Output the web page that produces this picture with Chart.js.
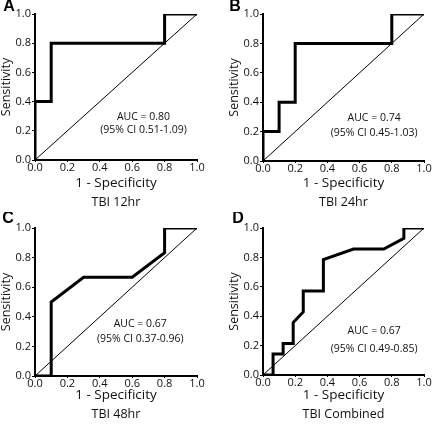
<!DOCTYPE html>
<html>
<head>
<meta charset="utf-8">
<script src="https://cdn.jsdelivr.net/npm/chart.js@4.4.0/dist/chart.umd.js"></script>
<style>
    body { margin: 0; background: #fff; width: 432px; height: 424px; position: relative; overflow: hidden; }
    .panel { position: absolute; width: 216px; height: 212px; }
</style>
</head>
<body>
<div class="panel" style="left:0;top:0"><canvas id="chartA" width="216" height="212"></canvas></div>
<div class="panel" style="left:216px;top:0"><canvas id="chartB" width="216" height="212"></canvas></div>
<div class="panel" style="left:0;top:212px"><canvas id="chartC" width="216" height="212"></canvas></div>
<div class="panel" style="left:216px;top:212px"><canvas id="chartD" width="216" height="212"></canvas></div>
<script>
// tick labels shared by both axes
const tickValues = [0, 0.2, 0.4, 0.6, 0.8, 1.0];

const panelLetters = ['A', 'B', 'C', 'D'];
const panelTitles = ['TBI 12hr', 'TBI 24hr', 'TBI 48hr', 'TBI Combined'];
const aucLabels = ['AUC = 0.80', 'AUC = 0.74', 'AUC = 0.67', 'AUC = 0.67'];
const ciLabels = ['(95% CI 0.51-1.09)', '(95% CI 0.45-1.03)', '(95% CI 0.37-0.96)', '(95% CI 0.49-0.85)'];

// ROC curves: 1 - specificity (x) and sensitivity (y)
const fpr12hr = [0, 0, 0.1, 0.1, 0.8, 0.8, 1];
const tpr12hr = [0, 0.4, 0.4, 0.8, 0.8, 1, 1];

const fpr24hr = [0, 0, 0.1, 0.1, 0.2, 0.2, 0.8, 0.8, 1];
const tpr24hr = [0, 0.2, 0.2, 0.4, 0.4, 0.8, 0.8, 1, 1];

const fpr48hr = [0, 0.1, 0.1, 0.3, 0.6, 0.8, 0.8, 1];
const tpr48hr = [0, 0, 0.5, 0.667, 0.667, 0.833, 1, 1];

const fprCombined = [0, 0.0625, 0.0625, 0.125, 0.125, 0.1875, 0.1875, 0.25, 0.25, 0.375, 0.375, 0.5625, 0.75, 0.875, 0.875, 1];
const tprCombined = [0, 0, 0.143, 0.143, 0.214, 0.214, 0.357, 0.429, 0.571, 0.571, 0.786, 0.857, 0.857, 0.929, 1, 1];

// reference (chance) line
const chanceX = [0, 1];
const chanceY = [0, 1];

const curves = [
    [fpr12hr, tpr12hr],
    [fpr24hr, tpr24hr],
    [fpr48hr, tpr48hr],
    [fprCombined, tprCombined]
];

// plot boxes inside each 216x212 canvas, plus where the AUC note sits
const boxes = [
    { left: 35, right: 197, top: 14, bottom: 160, noteX: 0.67, noteY: [0.295, 0.205], letterX: 9 },
    { left: 47, right: 208, top: 14, bottom: 161, noteX: 0.69, noteY: [0.29, 0.19], letterX: 19 },
    { left: 35, right: 197, top: 16, bottom: 164, noteX: 0.65, noteY: [0.35, 0.25], letterX: 8 },
    { left: 47, right: 208, top: 16, bottom: 163, noteX: 0.69, noteY: [0.30, 0.18], letterX: 22 }
];

const FONT = "'Open Sans', sans-serif";

const panelText = {
    id: 'panelText',
    afterDraw(chart, args, opts) {
        const ctx = chart.ctx;
        const x = chart.scales.x;
        const y = chart.scales.y;
        const area = chart.chartArea;
        ctx.save();
        ctx.fillStyle = '#111';
        ctx.textAlign = 'center';
        ctx.textBaseline = 'middle';

        ctx.font = '10.5px ' + FONT;
        ctx.fillText(opts.auc, x.getPixelForValue(opts.noteX), y.getPixelForValue(opts.noteY[0]));
        ctx.fillText(opts.ci, x.getPixelForValue(opts.noteX), y.getPixelForValue(opts.noteY[1]));

        ctx.font = '12.5px ' + FONT;
        ctx.fillText(opts.title, (area.left + area.right) / 2, 202);

        ctx.fillStyle = '#000';
        ctx.font = 'bold 16px "Liberation Sans", Arial, sans-serif';
        ctx.fillText(opts.letter, opts.letterX, 7);
        ctx.restore();
    }
};

function renderPanel(i) {
    const box = boxes[i];
    const [fpr, tpr] = curves[i];
    const rocPoints = fpr.map((v, k) => ({ x: v, y: tpr[k] }));
    const chancePoints = chanceX.map((v, k) => ({ x: v, y: chanceY[k] }));

    new Chart(document.getElementById('chart' + panelLetters[i]), {
        type: 'scatter',
        data: {
            datasets: [
                {
                    data: rocPoints,
                    showLine: true,
                    borderColor: '#000',
                    borderWidth: 3,
                    borderJoinStyle: 'miter',
                    pointRadius: 0,
                    tension: 0
                },
                {
                    data: chancePoints,
                    showLine: true,
                    borderColor: '#000',
                    borderWidth: 1,
                    pointRadius: 0
                }
            ]
        },
        options: {
            responsive: false,
            animation: false,
            layout: { padding: { left: box.left - 35, top: box.top, right: 216 - box.right, bottom: 0 } },
            plugins: {
                legend: { display: false },
                tooltip: { enabled: false },
                panelText: {
                    auc: aucLabels[i],
                    ci: ciLabels[i],
                    title: panelTitles[i],
                    letter: panelLetters[i],
                    noteX: box.noteX,
                    noteY: box.noteY,
                    letterX: box.letterX
                }
            },
            scales: {
                x: {
                    type: 'linear',
                    min: 0,
                    max: 1,
                    afterFit: (s) => { s.height = 212 - box.bottom; },
                    afterBuildTicks: (s) => { s.ticks = tickValues.map(v => ({ value: v })); },
                    ticks: {
                        color: '#111',
                        padding: 0,
                        maxRotation: 0,
                        font: { family: FONT, size: 11, lineHeight: 1.1 },
                        callback: (v) => v.toFixed(1)
                    },
                    grid: { drawOnChartArea: false, tickLength: 2, color: '#000', lineWidth: 1 },
                    border: { color: '#000', width: 2 },
                    title: {
                        display: true,
                        text: '1 - Specificity',
                        color: '#111',
                        font: { family: FONT, size: 13.5 },
                        padding: { top: 0, bottom: 21 }
                    }
                },
                y: {
                    type: 'linear',
                    min: 0,
                    max: 1,
                    afterFit: (s) => { s.width = 35; },
                    afterBuildTicks: (s) => { s.ticks = tickValues.map(v => ({ value: v })); },
                    ticks: {
                        color: '#111',
                        padding: 1,
                        font: { family: FONT, size: 11 },
                        callback: (v) => v.toFixed(1)
                    },
                    grid: { drawOnChartArea: false, tickLength: 3, color: '#000', lineWidth: 1 },
                    border: { color: '#000', width: 2 },
                    title: {
                        display: true,
                        text: 'Sensitivity',
                        color: '#111',
                        font: { family: FONT, size: 12.5, lineHeight: 1 },
                        padding: 0
                    }
                }
            }
        },
        plugins: [panelText]
    });
}

panelLetters.forEach((_, i) => renderPanel(i));
</script>
</body>
</html>
